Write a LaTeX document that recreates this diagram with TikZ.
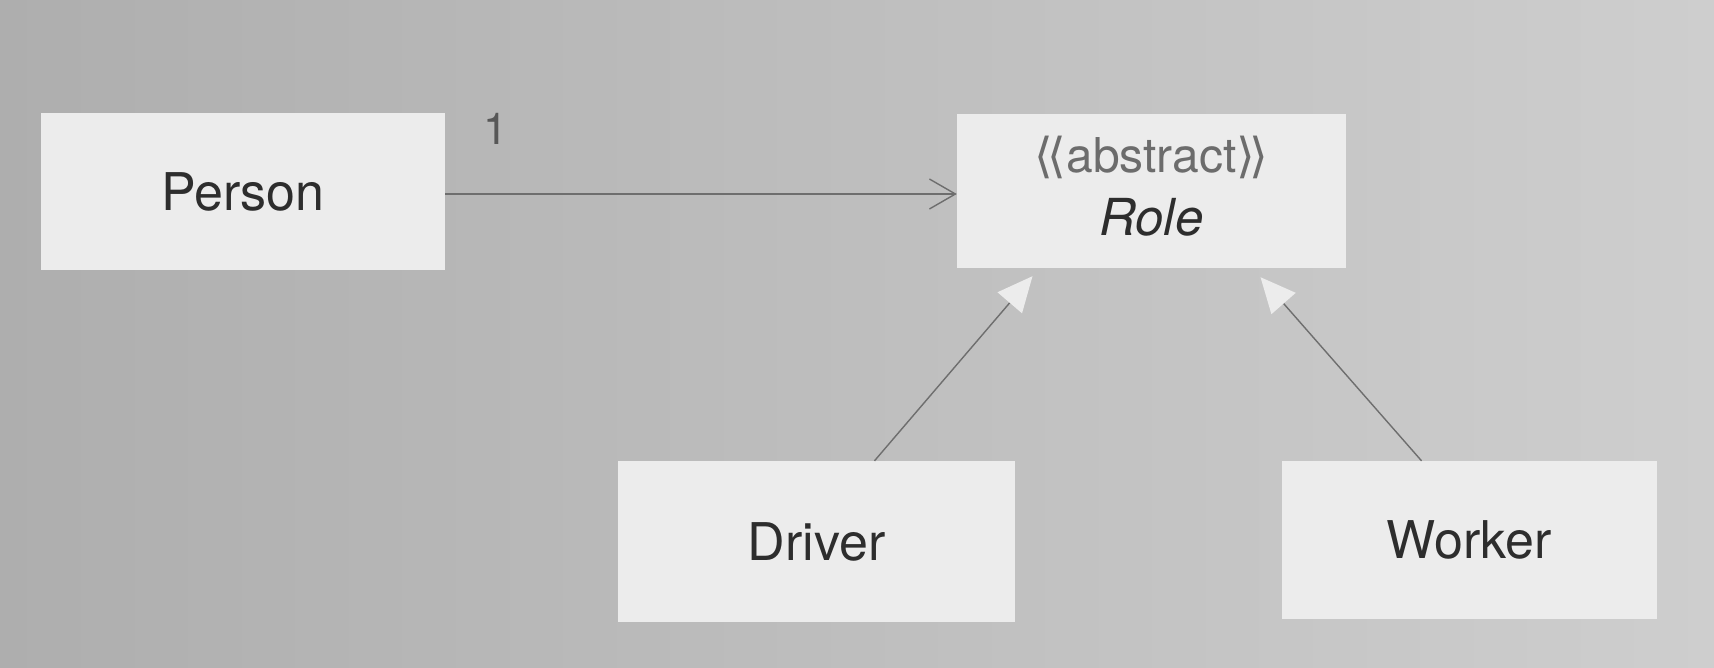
\documentclass[tikz,border=0pt]{standalone}
\usepackage{fontspec}
\setmainfont{TeX Gyre Heros}
\newfontfamily\symfont{DejaVu Sans}
\usetikzlibrary{arrows.meta}
\definecolor{bgleft}{RGB}{174,174,174}
\definecolor{bgright}{RGB}{206,206,206}
\definecolor{boxfill}{RGB}{236,236,236}
\definecolor{linecol}{RGB}{110,110,110}
\definecolor{txtcol}{RGB}{45,45,45}
\newcommand{\lgl}{{\symfont ⟨\kern-0.12em⟨}}
\newcommand{\rgl}{{\symfont ⟩\kern-0.12em⟩}}
\tikzset{
  umlbox/.style={rectangle, fill=boxfill, draw=none, inner sep=0pt,
    font=\fontsize{52}{60}\selectfont, text=txtcol},
  assoc/.style={draw=linecol, line width=1.4pt, -{Straight Barb[length=26pt,width=30pt,line width=1.4pt]}},
  gener/.style={draw=linecol, line width=1.4pt, -{Triangle[length=35pt,width=32pt,color=boxfill]}},
  mult/.style={font=\fontsize{44}{50}\selectfont, text=txtcol!80}
}
\begin{document}
\begin{tikzpicture}[x=1pt,y=-1pt]
\useasboundingbox (0,0) rectangle (1714,668);
\shade[left color=bgleft, right color=bgright] (0,0) rectangle (1714,668);
\node[umlbox, minimum width=404pt, minimum height=157pt] (person) at (243,191.5) {Person};
\node[umlbox, minimum width=389pt, minimum height=154pt] (role) at (1151.5,191) {};
\node[anchor=base, font=\fontsize{48}{56}\selectfont, text=txtcol!70] (stereo) at (1151.5,173) {\lgl abstract\rgl};
\node[anchor=base, font=\fontsize{51}{56}\selectfont\itshape, text=txtcol] (rolename) at (1151.5,236) {Role};
\node[umlbox, minimum width=397pt, minimum height=161pt] (driver) at (816.5,541.5) {Driver};
\node[umlbox, minimum width=375pt, minimum height=158pt] (worker) at (1469.5,540) {Worker};
\draw[assoc] (person.east |- 0,194) -- (role.west |- 0,194);
\node[mult] (one) at (496,129) {1};
\draw[gener] ([xshift=58pt]driver.north) -- ([xshift=-119pt,yshift=-8pt]role.south);
\draw[gener] ([xshift=-48pt]worker.north) -- ([xshift=109pt,yshift=-9pt]role.south);
\end{tikzpicture}
\end{document}
